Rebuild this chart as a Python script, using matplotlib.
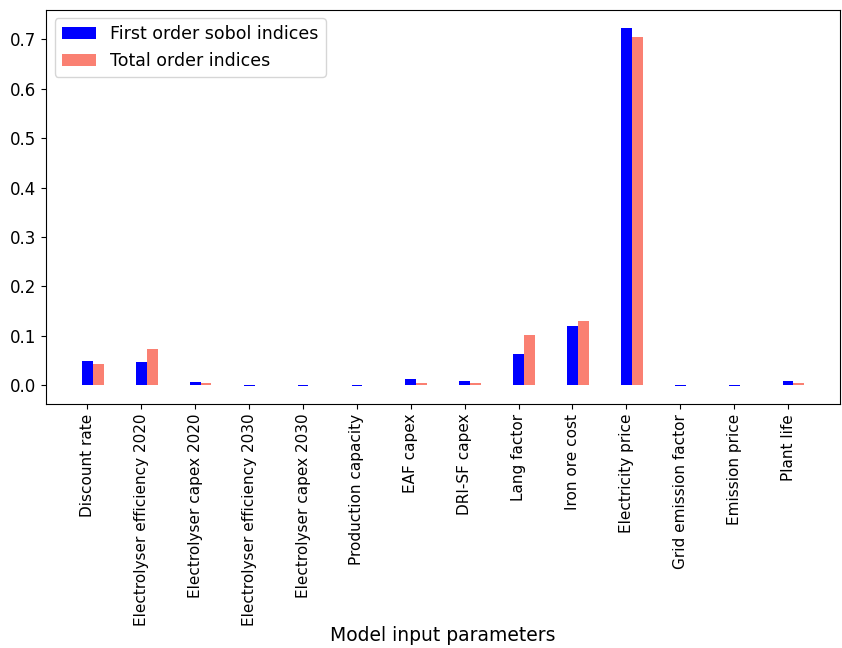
import numpy as np
import matplotlib
matplotlib.use("Agg")
import matplotlib.pyplot as plt

# Sobol sensitivity indices for each model input
params = ["Discount rate", "Electrolyser efficiency 2020", "Electrolyser capex 2020",
          "Electrolyser efficiency 2030", "Electrolyser capex 2030", "Production capacity",
          "EAF capex", "DRI-SF capex", "Lang factor", "Iron ore cost",
          "Electricity price", "Grid emission factor", "Emission price", "Plant life"]
first_order = [0.048, 0.046, 0.006, -0.002, -0.002, -0.002, 0.012, 0.008,
               0.064, 0.119, 0.724, -0.002, -0.001, 0.008]
total_order = [0.042, 0.073, 0.004, 0.001, 0.001, 0.001, 0.004, 0.005,
               0.101, 0.129, 0.706, 0.0004, 0.0004, 0.005]

fig, ax = plt.subplots(figsize=(8.42, 6.48), dpi=100)
fig.subplots_adjust(left=0.0546, right=0.998, top=0.985, bottom=0.3765)

x = np.arange(len(params))
w = 0.2
ax.bar(x, first_order, width=w, color="blue", label="First order sobol indices")
ax.bar(x + w, total_order, width=w, color="salmon", label="Total order indices")

ax.set_xticks(x)
ax.set_xticklabels(params, rotation=90, fontsize=11)
ax.tick_params(axis="y", labelsize=12)
ax.set_xlabel("Model input parameters", fontsize=13.5, labelpad=0)
ax.legend(loc="upper left", fontsize=12.5)

fig.savefig("out.png", dpi=100)
